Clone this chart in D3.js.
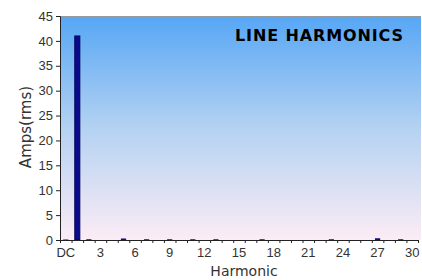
<!DOCTYPE html>
<html>
<head>
<meta charset="utf-8">
<script src="https://cdn.jsdelivr.net/npm/d3@7"></script>
<style>
  body { margin: 0; background: #fff; }
  svg text { font-family: "Liberation Sans", Arial, sans-serif; fill: #333; }
</style>
</head>
<body>
<div id="graphique"></div>
<script>
// Donnees
const harmoniques = ['DC'].concat(d3.range(1, 31).map(String));
const amperes = [0.1, 41, 0.15, 0, 0, 0.3, 0, 0.15, 0, 0.15, 0, 0.15, 0, 0.15, 0, 0, 0,
                 0.15, 0, 0, 0, 0, 0, 0.15, 0, 0, 0, 0.35, 0, 0.15, 0];
const etiquettesX = ['DC', '3', '6', '9', '12', '15', '18', '21', '24', '27', '30'];
const ticksY = d3.range(0, 50, 5);

const largeur = 422, hauteur = 280;
const marge = {top: 16, right: 4, bottom: 40, left: 60};
const w = largeur - marge.left - marge.right;
const h = hauteur - marge.top - marge.bottom;

const svg = d3.select('#graphique').append('svg')
    .attr('width', largeur)
    .attr('height', hauteur);

// degrade du fond
const defs = svg.append('defs');
const degrade = defs.append('linearGradient')
    .attr('id', 'fond').attr('x1', 0).attr('y1', 0).attr('x2', 0).attr('y2', 1);
degrade.append('stop').attr('offset', '0%').attr('stop-color', '#56a6f5');
degrade.append('stop').attr('offset', '50%').attr('stop-color', '#b4d2f2');
degrade.append('stop').attr('offset', '100%').attr('stop-color', '#fcecf5');

const g = svg.append('g')
    .attr('transform', 'translate(' + marge.left + ',' + marge.top + ')');

const x = d3.scaleBand().domain(harmoniques).range([0, w]).paddingInner(0.55).paddingOuter(0.275);
const xTicks = d3.scaleLinear().domain([0, harmoniques.length]).range([0, w]);
const y = d3.scaleLinear().domain([0, 45]).range([h, 0]);

g.append('rect')
    .attr('x', 0).attr('y', 0)
    .attr('width', w + 3).attr('height', h)
    .attr('fill', 'url(#fond)');

g.append('line')
    .attr('x1', 0).attr('x2', w + 3).attr('y1', 0.5).attr('y2', 0.5)
    .attr('stroke', '#999');

// barres
g.selectAll('rect.barre')
    .data(amperes)
    .enter()
    .append('rect')
    .attr('class', 'barre')
    .attr('x', (d, i) => x(harmoniques[i]))
    .attr('width', x.bandwidth())
    .attr('y', d => y(d))
    .attr('height', d => y(0) - y(d))
    .attr('fill', '#0a0a8c')
    .attr('stroke', '#000050')
    .attr('stroke-width', d => d > 1 ? 0.8 : 0);

// axe X : marques entre categories
g.append('g')
    .attr('class', 'x axis')
    .attr('transform', 'translate(0,' + h + ')')
    .call(d3.axisBottom(xTicks).tickValues(d3.range(0, harmoniques.length + 1)).tickSize(3).tickFormat(''))
    .call(a => a.select('.domain').attr('stroke', '#222'))
    .call(a => a.selectAll('.tick line').attr('stroke', '#222'));

// etiquettes X
g.append('g')
    .attr('transform', 'translate(0,' + h + ')')
    .call(d3.axisBottom(x).tickValues(etiquettesX).tickSize(0).tickPadding(8))
    .call(a => a.select('.domain').remove())
    .call(a => a.selectAll('text').style('font-size', '13px').attr('fill', '#333'));

// axe Y
g.append('g')
    .attr('class', 'y axis')
    .call(d3.axisLeft(y).tickValues(ticksY).tickSize(4).tickPadding(3))
    .call(a => a.select('.domain').attr('stroke', '#222'))
    .call(a => a.selectAll('.tick line').attr('stroke', '#222'))
    .call(a => a.selectAll('text').style('font-size', '13px').attr('fill', '#333'));

// titres
svg.append('text')
    .attr('x', 244).attr('y', 276)
    .attr('text-anchor', 'middle')
    .style('font-family', '"DejaVu Sans", Verdana, sans-serif')
    .style('font-size', '14px')
    .text('Harmonic');

svg.append('text')
    .attr('transform', 'translate(31,127) rotate(-90)')
    .attr('text-anchor', 'middle')
    .style('font-family', '"DejaVu Sans", Verdana, sans-serif')
    .style('font-size', '15px')
    .text('Amps(rms)');

svg.append('text')
    .attr('x', 235).attr('y', 41)
    .style('font-family', '"DejaVu Sans", Verdana, sans-serif')
    .style('font-weight', 'bold')
    .style('font-size', '16px')
    .style('fill', '#000')
    .attr('textLength', 168)
    .text('LINE HARMONICS');
</script>
</body>
</html>
